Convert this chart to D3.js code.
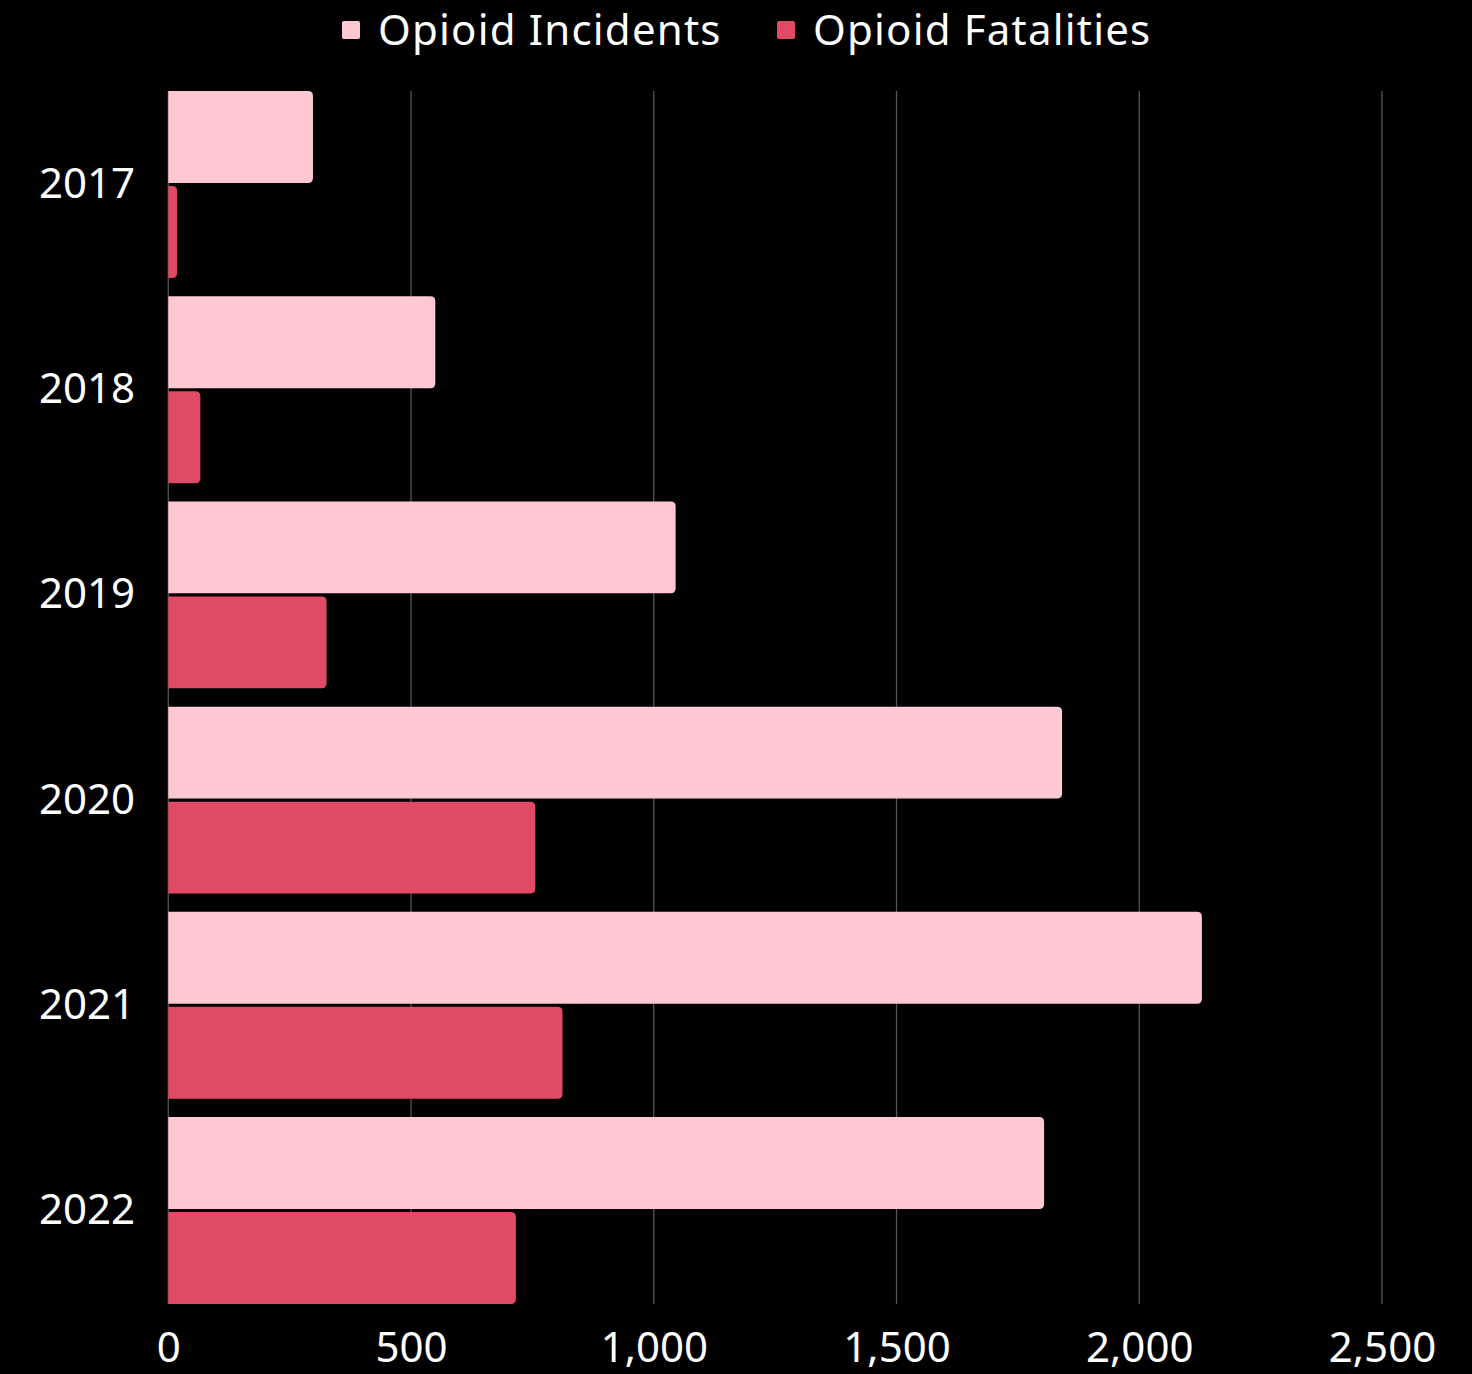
<!DOCTYPE html>
<html>
<head>
<meta charset="utf-8">
<script src="https://cdn.jsdelivr.net/npm/d3@7"></script>
<style>
    html, body { margin: 0; padding: 0; background: #000; }
    svg { display: block; }
    text { font-family: 'Noto Sans', sans-serif; fill: #fff; }
</style>
</head>
<body>
<div class="chartBox"></div>
<script>
const years = ["2017", "2018", "2019", "2020", "2021", "2022"];
const incidents = [298, 550, 1045, 1841, 2129, 1804];
const fatalities = [18, 66, 326, 756, 812, 716];
const seriesNames = ["Opioid Incidents", "Opioid Fatalities"];
const seriesColors = ["#FFC8D2", "#E04A64"];
const xTicks = [0, 500, 1000, 1500, 2000, 2500];

const W = 1472, H = 1374;
const svg = d3.select(".chartBox").append("svg")
    .attr("width", W)
    .attr("height", H);

const x = d3.scaleLinear().domain([0, 2500]).range([168.3, 1382]);
const y = d3.scaleBand().domain(years).range([91, 1304]).paddingInner(0.089).paddingOuter(0);
const ySub = d3.scaleBand().domain(seriesNames).range([0, y.bandwidth()]).paddingInner(0.032);

// gridlines
svg.append("g")
    .selectAll("line")
    .data(xTicks)
    .enter()
    .append("line")
    .attr("x1", d => x(d))
    .attr("x2", d => x(d))
    .attr("y1", 91)
    .attr("y2", 1304)
    .attr("stroke", "#555")
    .attr("stroke-width", 1.3);

// axis labels
const xAxis = svg.append("g")
    .attr("transform", "translate(0,1304)")
    .call(d3.axisBottom(x).tickValues(xTicks).tickSize(0).tickPadding(28).tickFormat(d3.format(",")));
xAxis.select(".domain").remove();
xAxis.selectAll("text")
    .style("font-size", "42px")
    .style("font-family", "'Noto Sans', sans-serif")
    .attr("fill", "#fff");

const yAxis = svg.append("g")
    .attr("transform", "translate(135,0)")
    .call(d3.axisLeft(y).tickSize(0).tickPadding(0));
yAxis.select(".domain").remove();
yAxis.selectAll("text")
    .style("font-size", "42px")
    .style("font-family", "'Noto Sans', sans-serif")
    .attr("fill", "#fff");

// bar with rounded right end
const barPath = (x0, x1, y0, h, r) => {
    const w = x1 - x0;
    r = Math.min(r, w, h / 2);
    return `M${x0},${y0}H${x1 - r}Q${x1},${y0} ${x1},${y0 + r}V${y0 + h - r}Q${x1},${y0 + h} ${x1 - r},${y0 + h}H${x0}Z`;
};

const rows = years.map((yr, i) => ({year: yr, values: [incidents[i], fatalities[i]]}));

const groups = svg.append("g")
    .selectAll("g")
    .data(rows)
    .enter()
    .append("g")
    .attr("transform", d => `translate(0,${y(d.year)})`);

groups.selectAll("path")
    .data(d => d.values.map((v, k) => ({name: seriesNames[k], value: v, color: seriesColors[k]})))
    .enter()
    .append("path")
    .attr("d", d => barPath(x(0), x(d.value), ySub(d.name), ySub.bandwidth(), 5))
    .attr("fill", d => d.color);

// legend
const legend = svg.append("g");
const legendX = [342, 777];
seriesNames.forEach((name, i) => {
    legend.append("rect")
        .attr("x", legendX[i])
        .attr("y", 21)
        .attr("width", 18)
        .attr("height", 18)
        .attr("rx", 2)
        .attr("fill", seriesColors[i]);
    legend.append("text")
        .attr("x", legendX[i] + 36)
        .attr("y", 45)
        .style("font-size", "42px")
        .style("letter-spacing", "1.2px")
        .text(name);
});
</script>
</body>
</html>
